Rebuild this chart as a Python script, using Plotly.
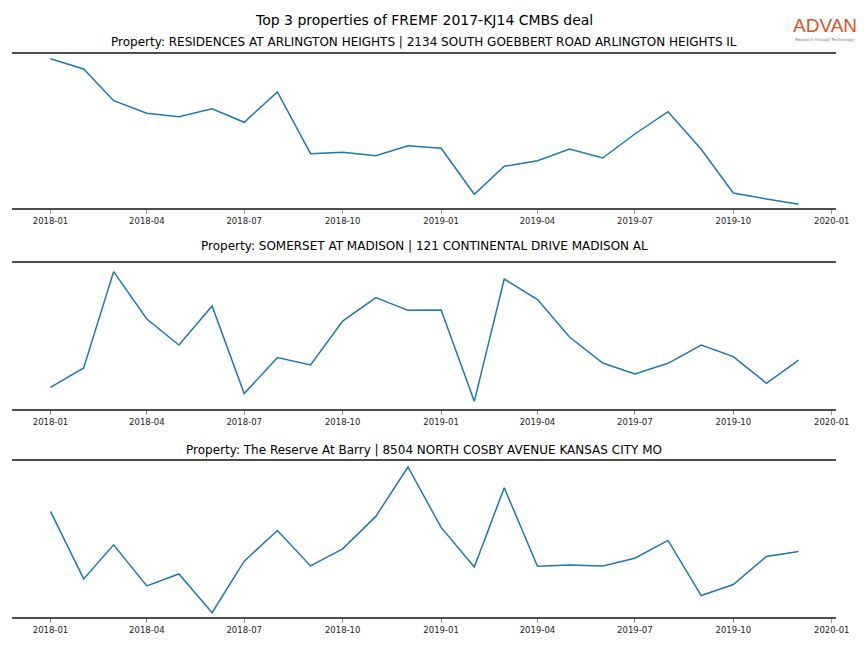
import plotly.graph_objects as go
from plotly.subplots import make_subplots

months = [f"{2018 + i // 12}-{i % 12 + 1:02d}-01" for i in range(24)]

titles = [
    "Property: RESIDENCES AT ARLINGTON HEIGHTS | 2134 SOUTH GOEBBERT ROAD ARLINGTON HEIGHTS IL",
    "Property: SOMERSET AT MADISON | 121 CONTINENTAL DRIVE MADISON AL",
    "Property: The Reserve At Barry | 8504 NORTH COSBY AVENUE KANSAS CITY MO",
]

# values (arbitrary units)
arlington = [149.3, 139.0, 107.3, 94.7, 91.3, 99.3, 85.7, 116.0, 54.3, 55.7, 52.3, 62.3,
             59.7, 13.7, 41.7, 47.3, 59.0, 50.0, 74.0, 96.3, 58.7, 15.0, 9.0, 3.7]
somerset = [21.7, 41.0, 137.4, 90.0, 64.0, 103.0, 15.4, 51.4, 44.0, 88.0, 111.4, 98.7,
            99.0, 7.7, 130.0, 109.4, 72.0, 46.0, 35.0, 45.7, 64.0, 52.4, 25.7, 49.0]
reserve = [105.4, 38.0, 72.0, 31.0, 43.0, 4.4, 55.7, 86.4, 51.0, 68.0, 100.4, 149.7,
           89.4, 50.0, 129.0, 50.7, 52.0, 51.0, 58.7, 76.4, 21.4, 32.4, 60.4, 65.4]
series = [arlington, somerset, reserve]
y_ranges = [[0, 154], [0, 146], [0, 155.7]]

fig = make_subplots(rows=3, cols=1, subplot_titles=titles)
for i, vals in enumerate(series):
    fig.add_trace(go.Scatter(x=months, y=vals, mode="lines",
                             line=dict(color="#1f77b4", width=1.5),
                             showlegend=False), row=i + 1, col=1)

domains = [[0.6790, 0.9167], [0.3688, 0.5941], [0.0478, 0.2886]]
for i in range(3):
    n = "" if i == 0 else str(i + 1)
    fig.layout["xaxis" + n].update(
        domain=[0, 1], type="date",
        range=["2017-11-26 01:00", "2020-01-04 23:00"],
        tick0="2018-01-01", dtick="M3", tickformat="%Y-%m",
        showgrid=False, zeroline=False,
        showline=True, mirror=True, linecolor="#4d4d4d", linewidth=2,
        ticks="outside", ticklen=4, tickwidth=1, tickcolor="#999999",
        tickfont=dict(family="DejaVu Sans", size=8.5, color="#222222"),
    )
    fig.layout["yaxis" + n].update(
        domain=domains[i], range=y_ranges[i],
        showgrid=False, zeroline=False, showline=False,
        showticklabels=False, ticks="",
    )

# subplot title positions
title_y = [42, 246, 450]
for i, ann in enumerate(fig.layout.annotations):
    ann.update(y=1 - title_y[i] / 648, yanchor="middle", x=0.5,
               font=dict(family="DejaVu Sans", size=12, color="#000000"))

fig.add_annotation(text="Top 3 properties of FREMF 2017-KJ14 CMBS deal",
                   xref="paper", yref="paper", x=0.5, y=1 - 20 / 648,
                   xanchor="center", yanchor="middle", showarrow=False,
                   font=dict(family="DejaVu Sans", size=14, color="#000000"))

# logo
fig.add_annotation(text="ADVAN", xref="paper", yref="paper",
                   x=(824.5 - 12) / 824, y=1 - 26 / 648, xanchor="center", yanchor="middle",
                   showarrow=False,
                   font=dict(family="Liberation Sans", size=19, color="#e0512a"))
fig.add_annotation(text="Research through Technology", xref="paper", yref="paper",
                   x=(824.5 - 12) / 824, y=1 - 39.5 / 648, xanchor="center", yanchor="middle",
                   showarrow=False,
                   font=dict(family="DejaVu Sans", size=4, color="#777777"))

fig.update_layout(
    width=864, height=648,
    margin=dict(l=12, r=28, t=0, b=0),
    paper_bgcolor="white", plot_bgcolor="white",
)

fig.write_html("out.html", config={"displayModeBar": False},
               post_script="document.body.style.margin='0';")
